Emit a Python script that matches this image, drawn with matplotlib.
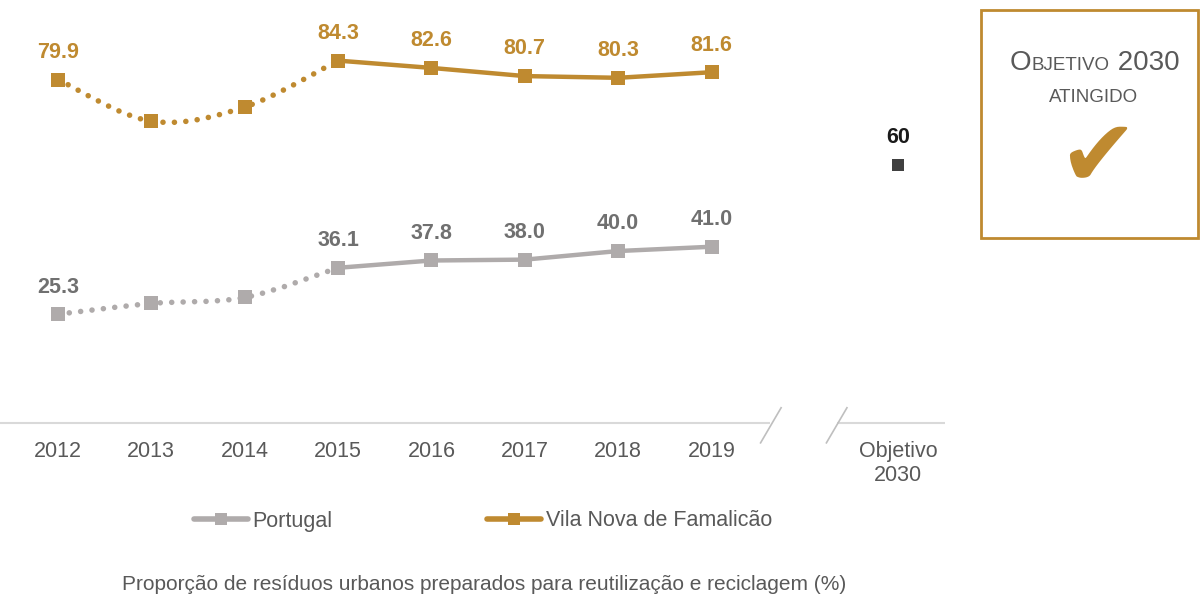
"""
Proporção de resíduos urbanos preparados para reutilização e reciclagem
"""

import numpy as np
import matplotlib
matplotlib.use("Agg")
import matplotlib.pyplot as plt
from matplotlib.path import Path
from matplotlib.patches import PathPatch, Rectangle
from matplotlib.lines import Line2D
import matplotlib.transforms as mtransforms

plt.rcParams['font.family'] = ['Liberation Sans', 'DejaVu Sans']

# Data
years = ['2012', '2013', '2014', '2015', '2016', '2017', '2018', '2019']
portugal = [25.3, 27.8, 29.2, 36.1, 37.8, 38.0, 40.0, 41.0]
famalicao = [79.9, 70.2, 73.5, 84.3, 82.6, 80.7, 80.3, 81.6]
labelled = [True, False, False, True, True, True, True, True]
target_label = 'Objetivo\n2030'
target_value = 60

GOLD = '#BF8A30'
GREY = '#AFABAB'
GREY_TXT = '#707070'
AXIS_TXT = '#595959'


def smooth_path(xs, ys):
    """Catmull-Rom curve through the points, as a bezier path"""
    pts = np.column_stack([xs, ys]).astype(float)
    ext = np.vstack([pts[0], pts, pts[-1]])
    verts = [pts[0]]
    codes = [Path.MOVETO]
    for i in range(len(pts) - 1):
        p0, p1, p2, p3 = ext[i], ext[i + 1], ext[i + 2], ext[i + 3]
        c1 = p1 + (p2 - p0) / 6.0
        c2 = p2 - (p3 - p1) / 6.0
        verts += [c1, c2, p2]
        codes += [Path.CURVE4] * 3
    return Path(verts, codes)


fig = plt.figure(figsize=(12, 5.97), dpi=100)
ax = fig.add_axes([0.0, 0.2915, 0.7875, 0.7085])

x = np.arange(len(years))
x_target = len(years) + 1
split = 3  # dotted up to 2015, solid after

for values, color in [(portugal, GREY), (famalicao, GOLD)]:
    # dotted, smoothed part
    patch = PathPatch(smooth_path(x[:split + 1], values[:split + 1]),
                      fill=False, edgecolor=color, linewidth=4.0,
                      linestyle=(0, (0.01, 2.05)), capstyle='round', zorder=2)
    ax.add_patch(patch)
    # solid part
    ax.plot(x[split:], values[split:], color=color, linewidth=3.2,
            solid_capstyle='round', zorder=2)
    ax.plot(x, values, linestyle='none', marker='s', markersize=9.5,
            color=color, markeredgewidth=0, zorder=3)
    txt_color = GOLD if color == GOLD else GREY_TXT
    for xi, v, show in zip(x, values, labelled):
        if show:
            ax.annotate(f'{v:.1f}', (xi, v), xytext=(0, 12),
                        textcoords='offset points', ha='center', va='bottom',
                        fontsize=15.5, fontweight='bold', color=txt_color)

# target point
ax.plot([x_target], [target_value], linestyle='none', marker='s',
        markersize=9, color='#404040', markeredgewidth=0, zorder=3)
ax.annotate(str(target_value), (x_target, target_value), xytext=(0, 12),
            textcoords='offset points', ha='center', va='bottom',
            fontsize=15.5, fontweight='bold', color='#1a1a1a')

ax.set_xlim(-0.62, 9.5)
ax.set_ylim(0, 98.4)
ax.set_xticks(list(x) + [x_target])
ax.set_xticklabels(years + [target_label], fontsize=15.5, color=AXIS_TXT,
                   linespacing=1.2)
ax.tick_params(axis='x', length=0, pad=13)
ax.set_yticks([])
for s in ax.spines.values():
    s.set_visible(False)

# broken axis line
trans = mtransforms.blended_transform_factory(ax.transData, ax.transAxes)
ax.plot([-0.62, 7.63], [0, 0], color='#D9D9D9', lw=1.5, transform=trans,
        clip_on=False, solid_capstyle='butt')
ax.plot([8.34, 9.5], [0, 0], color='#D9D9D9', lw=1.5, transform=trans,
        clip_on=False, solid_capstyle='butt')
for xb in [7.635, 8.34]:
    ax.plot([xb + 0.11, xb - 0.11], [0.036, -0.047], color='#BFBFBF',
            lw=1.2, transform=trans, clip_on=False)

# legend
handles = [
    Line2D([], [], color=GREY, lw=4, marker='s', markersize=8,
           markeredgewidth=0, solid_capstyle='round'),
    Line2D([], [], color=GOLD, lw=4, marker='s', markersize=8,
           markeredgewidth=0, solid_capstyle='round'),
]
leg = fig.legend(handles, ['Portugal', 'Vila Nova de Famalicão'], ncol=2,
                 loc='center', bbox_to_anchor=(483 / 1200, 1 - 521 / 597),
                 frameon=False, fontsize=15.5, handlelength=2.5,
                 handletextpad=0.2, columnspacing=7.2)
for t in leg.get_texts():
    t.set_color(AXIS_TXT)

fig.text(484 / 1200, 1 - 584 / 597,
         'Proporção de resíduos urbanos preparados para reutilização e reciclagem (%)',
         ha='center', va='center', fontsize=15, color=AXIS_TXT)

# "objective reached" box
box = Rectangle((981 / 1200, 1 - 238 / 597), 217 / 1200, 228 / 597,
                transform=fig.transFigure, fill=False, edgecolor=GOLD,
                linewidth=2)
fig.patches.append(box)

big, small = 20, 13.5
t1 = fig.text(1010 / 1200, 1 - 70 / 597, 'O', fontsize=big, color=AXIS_TXT,
              va='baseline', ha='left')
t2 = fig.text(0, 0, 'BJETIVO', fontsize=small, color=AXIS_TXT)
t3 = fig.text(0, 0, ' 2030', fontsize=big, color=AXIS_TXT)
fig.canvas.draw()
r = fig.canvas.get_renderer()
bb1 = t1.get_window_extent(r)
base = 1 - 70 / 597
t2.set_position((bb1.x1 / fig.bbox.width, base))
t2.set_va('baseline')
bb2 = t2.get_window_extent(r)
t3.set_position((bb2.x1 / fig.bbox.width, base))
t3.set_va('baseline')

fig.text(1094 / 1200, 1 - 102 / 597, 'ATINGIDO', fontsize=small,
         color=AXIS_TXT, ha='center', va='baseline')
fig.text(1098 / 1200, 1 - 160 / 597, '\u2714', fontsize=68, color=GOLD,
         ha='center', va='center', family='DejaVu Sans')

fig.savefig('out.png', dpi=100)
